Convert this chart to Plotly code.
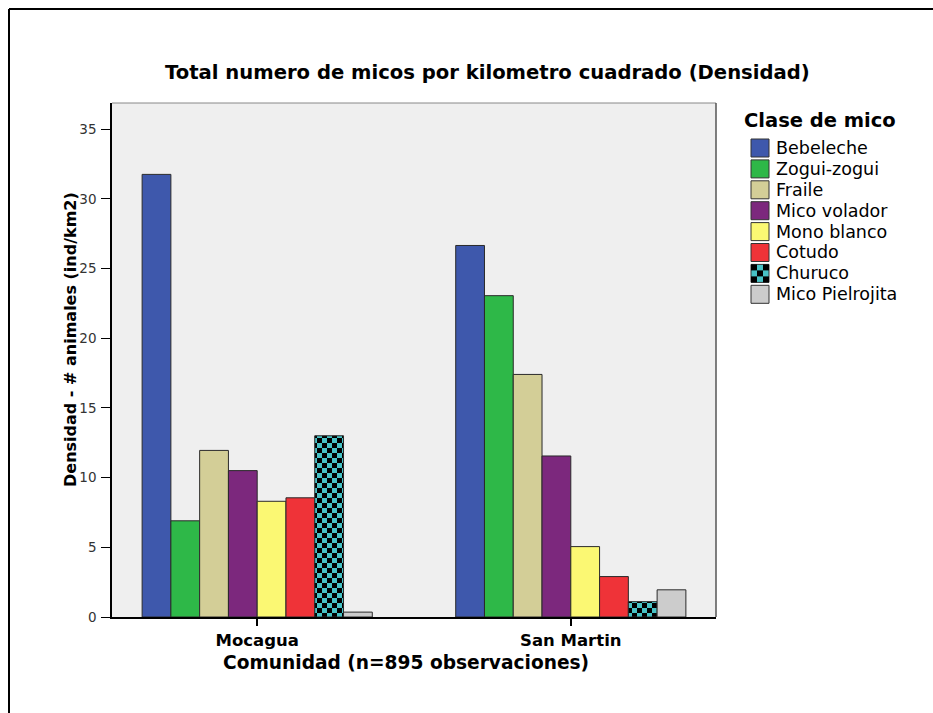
import plotly.graph_objects as go

# Monkey density per community (individuals / km2)
communities = ["Mocagua", "San Martin"]
species = ["Bebeleche", "Zogui-zogui", "Fraile", "Mico volador",
           "Mono blanco", "Cotudo", "Churuco", "Mico Pielrojita"]
mocagua = [31.75, 6.9, 11.95, 10.5, 8.3, 8.55, 13.0, 0.35]
san_martin = [26.65, 23.05, 17.4, 11.55, 5.05, 2.9, 1.1, 1.95]
colors = ["#3E58AC", "#2EB848", "#D3CE97", "#7C287D",
          "#FBF873", "#EF3338", "#48C2C5", "#CCCCCC"]
y_ticks = [0, 5, 10, 15, 20, 25, 30, 35]

W, H = 933, 713
L, R, T, B = 112, 217, 103, 96
PW, PH = W - L - R, H - T - B


def xp(px):
    return (px - L) / PW


def yp(py):
    return (H - B - py) / PH


CHECKER = "M0,0H5V5H0ZM5,5H10V10H5Z"

fig = go.Figure()
for i, name in enumerate(species):
    vals = [mocagua[i], san_martin[i]]
    marker = dict(color=colors[i], line=dict(color="#2a2a2a", width=1))
    if name == "Churuco":
        try:
            pat = go.bar.marker.Pattern(path=CHECKER, size=10, solidity=0.5,
                                        fgcolor="black", bgcolor=colors[i],
                                        fgopacity=1, fillmode="replace")
        except ValueError:
            pat = go.bar.marker.Pattern(shape="+", size=8, solidity=0.5,
                                        fgcolor="black", bgcolor=colors[i],
                                        fgopacity=1, fillmode="replace")
        marker["pattern"] = pat
    fig.add_trace(go.Bar(x=communities, y=vals, name=name, marker=marker,
                         showlegend=False))

SANS = "DejaVu Sans"
annotations = [
    dict(text="<b>Total numero de micos por kilometro cuadrado (Densidad)</b>",
         x=xp(487), y=yp(72), font=dict(family=SANS, size=19.6, color="black")),
    dict(text="<b>Comunidad (n=895 observaciones)</b>",
         x=xp(406), y=yp(662), font=dict(family=SANS, size=18.6, color="black")),
    dict(text="<b>Densidad - # animales (ind/km2)</b>", textangle=-90,
         x=xp(70), y=yp(340), font=dict(family=SANS, size=16, color="black")),
    dict(text="<b>Clase de mico</b>", x=xp(743), y=yp(120), xanchor="left",
         font=dict(family=SANS, size=19.5, color="black")),
]
for a in annotations:
    a.setdefault("xanchor", "center")
    a.update(xref="paper", yref="paper", yanchor="middle", showarrow=False,
             borderpad=0)

shapes = [
    # outer frame: top and left edges
    dict(type="line", x0=xp(9), x1=xp(933), y0=yp(9), y1=yp(9),
         line=dict(color="black", width=2), layer="above"),
    dict(type="line", x0=xp(9), x1=xp(9), y0=yp(9), y1=yp(713),
         line=dict(color="black", width=2), layer="above"),
    # top and right border of the plot area
    dict(type="line", x0=0, x1=1, y0=1, y1=1,
         line=dict(color="#888888", width=1)),
    dict(type="line", x0=1, x1=1, y0=0, y1=1,
         line=dict(color="#555555", width=1.5)),
]

# legend block
row0, step, sw = 148, 20.9, 18
for i, name in enumerate(species):
    cy = row0 + step * i
    shapes.append(dict(type="rect", x0=xp(751), x1=xp(751 + sw),
                       y0=yp(cy - sw / 2), y1=yp(cy + sw / 2),
                       fillcolor=colors[i], line=dict(color="#333333", width=1)))
    if name == "Churuco":
        cell = sw / 3
        for cx, cyy in [(0, 0), (2, 0), (1, 1), (0, 2), (2, 2)]:
            x0 = 751 + cx * cell
            y0 = cy - sw / 2 + cyy * cell
            shapes.append(dict(type="rect", x0=xp(x0), x1=xp(x0 + cell),
                               y0=yp(y0), y1=yp(y0 + cell),
                               fillcolor="black", line=dict(width=0)))
    annotations.append(dict(text=name, x=xp(775), y=yp(cy), xref="paper",
                            yref="paper", xanchor="left", yanchor="middle",
                            showarrow=False, borderpad=0,
                            font=dict(family=SANS, size=17.5, color="black")))

for s in shapes:
    s.update(xref="paper", yref="paper")

fig.update_layout(
    width=W, height=H,
    margin=dict(l=L, r=R, t=T, b=B, pad=0),
    paper_bgcolor="white", plot_bgcolor="#EFEFEF",
    barmode="group", bargap=0.266, bargroupgap=0,
    showlegend=False,
    annotations=annotations, shapes=shapes,
    xaxis=dict(type="category", range=[-0.463, 1.463],
               showline=True, linecolor="black", linewidth=1.5,
               ticks="outside", ticklen=7, tickwidth=1.5, tickcolor="black",
               showgrid=False, zeroline=False,
               tickfont=dict(family=SANS, size=16.5, color="black", weight="bold")),
    yaxis=dict(range=[0, 36.87], tickvals=y_ticks,
               showline=True, linecolor="black", linewidth=1.5,
               ticks="outside", ticklen=9, tickwidth=1.2, tickcolor="black",
               ticklabelstandoff=2,
               showgrid=False, zeroline=False,
               tickfont=dict(family=SANS, size=13.5, color="#333333")),
)

fig.write_html("out.html")
